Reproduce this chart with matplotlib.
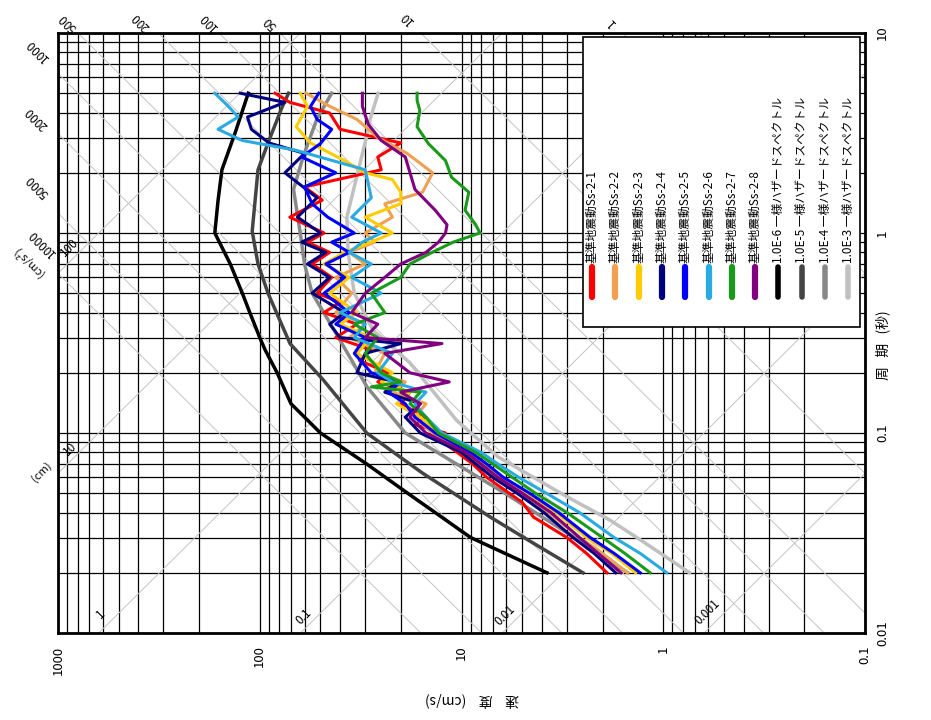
import numpy as np
import matplotlib
matplotlib.use("Agg")
import matplotlib.pyplot as plt
from matplotlib.patches import Rectangle
from matplotlib.lines import Line2D
from matplotlib.ticker import LogLocator, NullFormatter

plt.rcParams['font.family'] = ['Noto Sans CJK JP', 'DejaVu Sans']

# --- data : period (s) / pseudo velocity (cm/s) ---
T_1 = [0.02, 0.025, 0.03, 0.038, 0.045, 0.05, 0.06, 0.07, 0.08, 0.093, 0.1, 0.11,
       0.12, 0.14, 0.16, 0.18, 0.2, 0.23, 0.26, 0.3, 0.35, 0.4, 0.45, 0.5, 0.6,
       0.7, 0.8, 0.9, 1.0, 1.2, 1.46, 1.7, 2.07, 2.4, 2.82, 3.3, 3.98, 4.5, 5.0]
ss_2_1 = [1.9, 2.4, 3.0, 4.4, 5.0, 5.8, 7.5, 8.8, 10.5, 13, 12, 17,
          15, 20, 18, 26, 23, 32, 28, 42, 33, 48, 40, 52, 44,
          55, 45, 58, 48, 71, 49, 60, 25, 26, 20, 40, 45, 71, 84]

T_2 = [0.02, 0.025, 0.03, 0.04, 0.05, 0.06, 0.07, 0.08, 0.1, 0.12, 0.14, 0.16,
       0.18, 0.2, 0.25, 0.3, 0.35, 0.4, 0.5, 0.6, 0.7, 0.8, 0.9, 1.0, 1.2, 1.4,
       1.6, 2.0, 2.5, 3.0, 3.7, 4.3, 5.0]
ss_2_2 = [1.5, 2.0, 2.6, 3.7, 5.3, 6.8, 8.2, 9.5, 14, 17, 15, 22,
          19, 27, 24, 36, 30, 42, 35, 42, 30, 36, 27, 30, 22, 24,
          15.6, 13.9, 18.6, 26, 33, 45, 59]

T_3 = [0.02, 0.025, 0.03, 0.04, 0.05, 0.06, 0.07, 0.08, 0.1, 0.12, 0.14, 0.16,
       0.18, 0.2, 0.25, 0.3, 0.35, 0.4, 0.5, 0.6, 0.7, 0.8, 0.9, 1.0, 1.2, 1.4,
       1.6, 1.85, 2.0, 2.3, 2.82, 3.4, 4.3, 5.0]
ss_2_3 = [1.37, 1.8, 2.4, 3.4, 4.8, 6.3, 7.8, 9, 13, 16, 21, 18,
          25, 22, 33, 28, 40, 33, 45, 36, 48, 38, 28, 22, 30, 20,
          20, 22, 30, 38, 56, 66, 58, 63]

T_4 = [0.02, 0.025, 0.03, 0.04, 0.05, 0.06, 0.07, 0.08, 0.1, 0.12, 0.14, 0.16,
       0.18, 0.2, 0.25, 0.28, 0.3, 0.35, 0.4, 0.5, 0.6, 0.7, 0.8, 0.9, 1.0, 1.2,
       1.5, 2.0, 2.5, 2.82, 3.3, 3.8, 4.5, 5.0]
ss_2_4 = [1.72, 2.2, 2.8, 3.9, 5.3, 7, 8.5, 10, 16, 19, 16, 24,
          21, 33, 30, 20, 40, 45, 38, 55, 45, 58, 47, 62, 50, 65,
          52, 75, 60, 90, 110, 115, 75, 125]

T_5 = [0.02, 0.025, 0.03, 0.04, 0.05, 0.06, 0.07, 0.08, 0.1, 0.12, 0.14, 0.16,
       0.18, 0.2, 0.25, 0.3, 0.35, 0.4, 0.5, 0.6, 0.7, 0.8, 0.9, 1.0, 1.2, 1.4,
       1.7, 2.0, 2.4, 2.8, 3.3, 3.7, 4.3, 5.0]
ss_2_5 = [1.3, 1.75, 2.3, 3.3, 4.6, 6.2, 7.5, 9, 13.5, 17, 19, 23,
          20, 28, 34, 30, 42, 36, 48, 38, 47, 36, 44, 34, 46, 55,
          60, 42, 62, 50, 44, 52, 56, 51]

T_6 = [0.02, 0.025, 0.03, 0.04, 0.05, 0.06, 0.07, 0.08, 0.1, 0.12, 0.14, 0.16,
       0.18, 0.2, 0.25, 0.3, 0.35, 0.4, 0.5, 0.6, 0.7, 0.8, 0.9, 1.0, 1.2, 1.5,
       2.07, 2.6, 2.9, 3.3, 3.8, 4.3, 5.0]
ss_2_6 = [0.96, 1.3, 1.75, 2.6, 3.8, 5.2, 6.6, 8, 12.5, 15, 17, 15,
          22, 26, 22, 34, 30, 40, 25, 35, 28, 36, 31, 25, 35, 28,
          30, 67, 122, 161, 128, 143, 167]

T_7 = [0.02, 0.025, 0.03, 0.04, 0.05, 0.06, 0.07, 0.08, 0.1, 0.12, 0.14, 0.16,
       0.17, 0.18, 0.2, 0.25, 0.3, 0.35, 0.4, 0.5, 0.6, 0.7, 0.8, 0.9, 1.0, 1.1,
       1.3, 1.6, 1.9, 2.3, 2.8, 3.4, 4.1, 4.6, 5.0]
ss_2_7 = [1.16, 1.55, 2.0, 3.0, 4.3, 5.6, 7.0, 8.5, 13, 15, 18, 16,
          28, 20, 25, 30, 26, 34, 24, 28, 20, 18, 14, 11, 8.1, 8.5,
          9.6, 9.2, 11.2, 12, 14.6, 16.6, 16.1, 16.6, 16.6]

T_8 = [0.02, 0.025, 0.03, 0.04, 0.05, 0.06, 0.07, 0.08, 0.1, 0.12, 0.14, 0.16,
       0.18, 0.2, 0.25, 0.28, 0.3, 0.35, 0.4, 0.5, 0.6, 0.7, 0.8, 0.9, 1.0, 1.1,
       1.3, 1.65, 2.4, 2.9, 3.5, 4.3, 5.0]
ss_2_8 = [1.62, 2.1, 2.6, 3.6, 5.0, 6.6, 8, 9.5, 15, 18, 16, 20,
          11.5, 18, 24, 12.5, 30, 26, 35, 30, 24, 20, 15, 13, 12, 11.8,
          13.5, 17, 19, 25, 29, 31, 31]

T_uh6 = [0.02, 0.03, 0.04, 0.05, 0.07, 0.1, 0.14, 0.2, 0.26, 0.3, 0.4, 0.5,
         0.7, 1.0, 1.45, 2.07, 3.2, 5.0]
uh_1e6 = [3.77, 9.0, 13.5, 18.5, 29.5, 50, 70, 82, 94, 100, 112, 122,
          140, 167, 161, 154, 132, 114]
T_uh5 = [0.02, 0.03, 0.038, 0.063, 0.1, 0.185, 0.28, 0.5, 0.7, 1.02, 2.07,
         2.82, 4.26, 5.0]
uh_1e5 = [2.5, 4.9, 7.2, 15.6, 29.5, 48.6, 70.8, 91, 102, 109, 102,
          91, 77.5, 72]
T_uh4 = [0.02, 0.03, 0.05, 0.1, 0.17, 0.33, 0.5, 0.7, 1.0, 1.65, 2.4, 3.73, 5.0]
uh_1e4 = [1.5, 2.75, 6.1, 19, 29.4, 43, 55, 60, 63, 68, 61, 52, 44]
T_uh3 = [0.02, 0.03, 0.0367, 0.048, 0.076, 0.116, 0.224, 0.327, 0.5, 0.8,
         1.2, 3.1, 3.7, 5.0]
uh_1e3 = [0.74, 1.35, 1.84, 3.0, 6.6, 10.6, 18, 27.5, 34, 36.5,
          37, 29.4, 28.4, 25.9]

ss_labels = ['基準地震動Ss-2-%d' % i for i in range(1, 9)]
ss_colors = ['#ff0000', '#f0a050', '#ffcc00', '#000080',
             '#0000ff', '#29abe2', '#1a9a1a', '#800080']
uh_labels = ['1.0E-6 一様ハザードスペクトル', '1.0E-5 一様ハザードスペクトル',
             '1.0E-4 一様ハザードスペクトル', '1.0E-3 一様ハザードスペクトル']
uh_colors = ['#000000', '#444444', '#888888', '#c0c0c0']

acc_lines = [1, 10, 50, 100, 200, 500, 1000, 2000, 5000, 10000]   # cm/s2
disp_lines = [0.001, 0.01, 0.1, 1, 10, 100]                       # cm

# --- figure (drawn rotated : velocity horizontal, period vertical) ---
W, H = 931, 720
L, R, TOP, BOT = 58, 865, 33, 633
fig = plt.figure(figsize=(W / 100, H / 100), dpi=100)
ax = fig.add_axes([L / W, 1 - BOT / H, (R - L) / W, (BOT - TOP) / H])


def px(x, y):
    return x / W, 1 - y / H


ax.set_xscale('log')
ax.set_yscale('log')
ax.set_xlim(1000, 0.1)
ax.set_ylim(0.01, 10)

for axis in (ax.xaxis, ax.yaxis):
    axis.set_minor_locator(LogLocator(base=10, subs=range(2, 10)))
    axis.set_minor_formatter(NullFormatter())
ax.grid(which='both', color='black', lw=0.9)
ax.set_axisbelow(True)
ax.tick_params(which='both', length=0)
for s in ax.spines.values():
    s.set_linewidth(2)

ax.set_xticks([1000, 100, 10, 1, 0.1])
ax.set_xticklabels(['1000', '100', '10', '1', '0.1'], rotation=90, fontsize=9.5)
ax.tick_params(axis='x', pad=9)
ax.yaxis.tick_right()
ax.set_yticks([10, 1, 0.1, 0.01])
ax.set_yticklabels(['10', '1', '0.1', '0.01'], rotation=90, fontsize=9.5, va='center')
ax.tick_params(axis='y', pad=8)

# tripartite guide lines
T_line = np.logspace(-3, 2, 100)
for sa in acc_lines:
    ax.plot(sa * T_line / (2 * np.pi), T_line, color='#c4c4c4', lw=0.7, zorder=1)
for sd in disp_lines:
    ax.plot(2 * np.pi * sd / T_line, T_line, color='#c4c4c4', lw=0.7, zorder=1)

# spectra
uh = [(T_uh6, uh_1e6), (T_uh5, uh_1e5), (T_uh4, uh_1e4), (T_uh3, uh_1e3)]
for (tt, vals), c in zip(uh, uh_colors):
    ax.plot(vals, tt, color=c, lw=2.5, zorder=3)
ss = [(T_1, ss_2_1), (T_2, ss_2_2), (T_3, ss_2_3), (T_4, ss_2_4),
      (T_5, ss_2_5), (T_6, ss_2_6), (T_7, ss_2_7), (T_8, ss_2_8)]
for (tt, vals), c in zip(ss, ss_colors):
    ax.plot(vals, tt, color=c, lw=2.2, zorder=4)

# guide line labels
acc_txt = [('500', 68, 22), ('200', 141, 21), ('100', 208, 21), ('50', 270, 23),
           ('10', 407, 18), ('1', 611, 22), ('1000', 37, 50), ('2000', 37, 118),
           ('5000', 38, 186), ('10000', 42, 243)]
for t, x, y in acc_txt:
    fig.text(*px(x, y), t, rotation=135, ha='center', va='center', fontsize=8.5)
fig.text(*px(28, 262), '(cm/s²)', rotation=135, ha='center', va='center', fontsize=8)
disp_txt = [('100', 69, 247), ('10', 70, 449), ('1', 101, 614), ('0.1', 304, 617),
            ('0.01', 505, 615), ('0.001', 707, 612)]
for t, x, y in disp_txt:
    fig.text(*px(x, y), t, rotation=45, ha='center', va='center', fontsize=8.5)
fig.text(*px(41, 472), '(cm)', rotation=45, ha='center', va='center', fontsize=8)

# axis titles
fig.text(*px(472, 700), '速    度    (cm/s)', rotation=180, ha='center', va='center', fontsize=10)
fig.text(*px(883, 345), '周   期   (秒)', rotation=90, ha='center', va='center', fontsize=10)

# legend (rotated entries)
fig.add_artist(Rectangle(px(583, 327), (860 - 583) / W, (327 - 37) / H,
                         transform=fig.transFigure, facecolor='white',
                         edgecolor='black', lw=1.2, zorder=5))
x0, dx = 592, 23.3
for i, (lab, c, lw) in enumerate(zip(ss_labels + uh_labels, ss_colors + uh_colors,
                                     [4.5] * 8 + [4] * 4)):
    xx = x0 + dx * i
    fig.add_artist(Line2D([xx / W, xx / W], [1 - 297 / H, 1 - 267 / H],
                          transform=fig.transFigure, color=c, lw=lw,
                          solid_capstyle='round', zorder=6))
    fig.text(*px(xx, 263), lab, rotation=90, rotation_mode='anchor',
             ha='left', va='center', fontsize=8.5, zorder=6)

fig.savefig('out.png', dpi=100)
